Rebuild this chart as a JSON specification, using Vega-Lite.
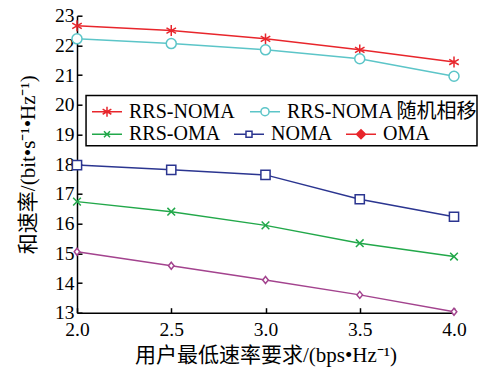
{
  "$schema": "https://vega.github.io/schema/vega-lite/v6.json",
  "width": 377,
  "height": 297,
  "autosize": {"type": "none"},
  "padding": {"left": 77, "top": 15.7, "right": 26, "bottom": 57.3},
  "background": "white",
  "config": {
    "view": {"stroke": null},
    "axis": {
      "domainColor": "black",
      "domainWidth": 1.5,
      "tickColor": "black",
      "tickWidth": 1.5,
      "grid": false,
      "labelFlush": false,
      "labelFont": "Liberation Serif",
      "labelFontSize": 19.5,
      "labelColor": "black",
      "titleFont": "Liberation Serif, Noto Sans CJK SC",
      "titleFontSize": 21,
      "titleFontWeight": "normal",
      "titleColor": "black"
    }
  },
  "data": {
    "values": [
      {"x": 2.0, "y": 22.66, "series": "RRS-NOMA"},
      {"x": 2.5, "y": 22.50, "series": "RRS-NOMA"},
      {"x": 3.0, "y": 22.22, "series": "RRS-NOMA"},
      {"x": 3.5, "y": 21.85, "series": "RRS-NOMA"},
      {"x": 4.0, "y": 21.44, "series": "RRS-NOMA"},
      {"x": 2.0, "y": 22.22, "series": "RRS-NOMA 随机相移"},
      {"x": 2.5, "y": 22.06, "series": "RRS-NOMA 随机相移"},
      {"x": 3.0, "y": 21.85, "series": "RRS-NOMA 随机相移"},
      {"x": 3.5, "y": 21.55, "series": "RRS-NOMA 随机相移"},
      {"x": 4.0, "y": 20.96, "series": "RRS-NOMA 随机相移"},
      {"x": 2.0, "y": 16.74, "series": "RRS-OMA"},
      {"x": 2.5, "y": 16.40, "series": "RRS-OMA"},
      {"x": 3.0, "y": 15.94, "series": "RRS-OMA"},
      {"x": 3.5, "y": 15.34, "series": "RRS-OMA"},
      {"x": 4.0, "y": 14.89, "series": "RRS-OMA"},
      {"x": 2.0, "y": 17.97, "series": "NOMA"},
      {"x": 2.5, "y": 17.81, "series": "NOMA"},
      {"x": 3.0, "y": 17.64, "series": "NOMA"},
      {"x": 3.5, "y": 16.82, "series": "NOMA"},
      {"x": 4.0, "y": 16.23, "series": "NOMA"},
      {"x": 2.0, "y": 15.05, "series": "OMA"},
      {"x": 2.5, "y": 14.58, "series": "OMA"},
      {"x": 3.0, "y": 14.10, "series": "OMA"},
      {"x": 3.5, "y": 13.60, "series": "OMA"},
      {"x": 4.0, "y": 13.03, "series": "OMA"}
    ]
  },
  "layer": [
    {
      "data": {"values": [{"note": "legend frame"}]},
      "mark": {"type": "rect", "fill": "white", "stroke": "black", "strokeWidth": 1.5},
      "encoding": {
        "x": {"datum": 2.048, "type": "quantitative", "scale": {"domain": [2, 4], "nice": false, "zero": false}, "title": "用户最低速率要求/(bps•Hz⁻¹)",
          "axis": {"values": [2, 2.5, 3, 3.5, 4], "format": ".1f", "tickSize": -5, "labelPadding": 13, "titlePadding": 5}},
        "x2": {"datum": 4.122},
        "y": {"datum": 20.31, "type": "quantitative", "scale": {"domain": [13, 23], "nice": false, "zero": false}, "title": "和速率/(bit•s⁻¹•Hz⁻¹)",
          "axis": {"values": [13, 14, 15, 16, 17, 18, 19, 20, 21, 22, 23], "tickSize": -5, "labelPadding": 8, "titlePadding": 16}},
        "y2": {"datum": 18.62}
      }
    },
    {
      "transform": [{"filter": {"field": "series", "oneOf": ["RRS-NOMA", "RRS-NOMA 随机相移"]}}],
      "encoding": {
        "x": {"field": "x", "type": "quantitative", "scale": {"domain": [2, 4], "nice": false, "zero": false}, "title": "用户最低速率要求/(bps•Hz⁻¹)",
          "axis": {"values": [2, 2.5, 3, 3.5, 4], "format": ".1f", "tickSize": -5, "labelPadding": 13, "titlePadding": 5}},
        "y": {"field": "y", "type": "quantitative", "scale": {"domain": [13, 23], "nice": false, "zero": false}, "title": "和速率/(bit•s⁻¹•Hz⁻¹)",
          "axis": {"values": [13, 14, 15, 16, 17, 18, 19, 20, 21, 22, 23], "tickSize": -5, "labelPadding": 8, "titlePadding": 16}},
        "stroke": {
          "field": "series", "type": "nominal",
          "scale": {"domain": ["RRS-NOMA", "RRS-NOMA 随机相移"], "range": ["#e8262c", "#5cc5c8"]},
          "legend": null
        }
      },
      "layer": [
        {"mark": {"type": "line", "strokeWidth": 1.5}},
        {
          "mark": {"type": "point", "filled": false, "fill": "white", "strokeWidth": 1.5, "opacity": 1},
          "encoding": {
            "shape": {
              "field": "series", "type": "nominal",
              "scale": {"domain": ["RRS-NOMA", "RRS-NOMA 随机相移"], "range": ["M0,-1V1M-0.87,-0.5L0.87,0.5M-0.87,0.5L0.87,-0.5", "circle"]},
              "legend": null
            },
            "size": {
              "field": "series", "type": "nominal",
              "scale": {"domain": ["RRS-NOMA", "RRS-NOMA 随机相移"], "range": [120, 100]},
              "legend": null
            }
          }
        }
      ]
    },
    {
      "transform": [{"filter": {"field": "series", "oneOf": ["RRS-OMA", "NOMA", "OMA"]}}],
      "encoding": {
        "x": {"field": "x", "type": "quantitative", "scale": {"domain": [2, 4], "nice": false, "zero": false}, "title": "用户最低速率要求/(bps•Hz⁻¹)",
          "axis": {"values": [2, 2.5, 3, 3.5, 4], "format": ".1f", "tickSize": -5, "labelPadding": 13, "titlePadding": 5}},
        "y": {"field": "y", "type": "quantitative", "scale": {"domain": [13, 23], "nice": false, "zero": false}, "title": "和速率/(bit•s⁻¹•Hz⁻¹)",
          "axis": {"values": [13, 14, 15, 16, 17, 18, 19, 20, 21, 22, 23], "tickSize": -5, "labelPadding": 8, "titlePadding": 16}},
        "stroke": {
          "field": "series", "type": "nominal",
          "scale": {"domain": ["RRS-OMA", "NOMA", "OMA"], "range": ["#22a84a", "#2b3590", "#a3438e"]},
          "legend": null
        }
      },
      "layer": [
        {"mark": {"type": "line", "strokeWidth": 1.5}},
        {
          "mark": {"type": "point", "filled": false, "fill": "white", "strokeWidth": 1.5, "opacity": 1},
          "encoding": {
            "shape": {
              "field": "series", "type": "nominal",
              "scale": {"domain": ["RRS-OMA", "NOMA", "OMA"], "range": ["M-0.7,-0.7L0.7,0.7M-0.7,0.7L0.7,-0.7", "square", "M0,-1L0.8,0L0,1L-0.8,0Z"]},
              "legend": null
            },
            "size": {
              "field": "series", "type": "nominal",
              "scale": {"domain": ["RRS-OMA", "NOMA", "OMA"], "range": [120, 49, 100]},
              "legend": null
            }
          }
        }
      ]
    },
    {
      "transform": [{"filter": {"field": "series", "oneOf": ["RRS-NOMA", "RRS-NOMA 随机相移"]}}],
      "mark": {"type": "point", "filled": false, "opacity": 0, "size": 900, "strokeWidth": 1.5},
      "encoding": {
        "x": {"field": "x", "type": "quantitative", "scale": {"domain": [2, 4], "nice": false, "zero": false}, "title": "用户最低速率要求/(bps•Hz⁻¹)",
          "axis": {"values": [2, 2.5, 3, 3.5, 4], "format": ".1f", "tickSize": -5, "labelPadding": 13, "titlePadding": 5}},
        "y": {"field": "y", "type": "quantitative", "scale": {"domain": [13, 23], "nice": false, "zero": false}, "title": "和速率/(bit•s⁻¹•Hz⁻¹)",
          "axis": {"values": [13, 14, 15, 16, 17, 18, 19, 20, 21, 22, 23], "tickSize": -5, "labelPadding": 8, "titlePadding": 16}},
        "stroke": {
          "field": "series", "type": "nominal",
          "scale": {"domain": ["RRS-NOMA", "RRS-NOMA 随机相移"], "range": ["#e8262c", "#5cc5c8"]},
          "legend": {
            "orient": "none", "legendX": 14, "legendY": 80, "direction": "horizontal",
            "title": null, "padding": 0, "columnPadding": 12,
            "labelFont": "Liberation Serif, Noto Sans CJK SC", "labelFontSize": 20, "labelColor": "black",
            "labelOffset": 6, "labelLimit": 0, "symbolSize": 900, "symbolStrokeWidth": 1.5, "symbolOpacity": 1
          }
        },
        "shape": {
          "field": "series", "type": "nominal",
          "scale": {"domain": ["RRS-NOMA", "RRS-NOMA 随机相移"], "range": [
            "M-1,0H1M0,-0.33V0.33M-0.29,-0.17L0.29,0.17M-0.29,0.17L0.29,-0.17",
            "M-1,0H-0.27M0.27,0H1M0.27,0A0.27,0.27,0,1,1,-0.27,0A0.27,0.27,0,1,1,0.27,0"
          ]},
          "legend": {
            "orient": "none", "legendX": 14, "legendY": 80, "direction": "horizontal",
            "title": null, "padding": 0, "columnPadding": 12,
            "labelFont": "Liberation Serif, Noto Sans CJK SC", "labelFontSize": 20, "labelColor": "black",
            "labelOffset": 6, "labelLimit": 0, "symbolSize": 900, "symbolStrokeWidth": 1.5, "symbolOpacity": 1
          }
        }
      }
    },
    {
      "transform": [{"filter": {"field": "series", "oneOf": ["RRS-OMA", "NOMA", "OMA"]}}],
      "mark": {"type": "point", "filled": false, "opacity": 0, "size": 900, "strokeWidth": 1.5},
      "encoding": {
        "x": {"field": "x", "type": "quantitative", "scale": {"domain": [2, 4], "nice": false, "zero": false}, "title": "用户最低速率要求/(bps•Hz⁻¹)",
          "axis": {"values": [2, 2.5, 3, 3.5, 4], "format": ".1f", "tickSize": -5, "labelPadding": 13, "titlePadding": 5}},
        "y": {"field": "y", "type": "quantitative", "scale": {"domain": [13, 23], "nice": false, "zero": false}, "title": "和速率/(bit•s⁻¹•Hz⁻¹)",
          "axis": {"values": [13, 14, 15, 16, 17, 18, 19, 20, 21, 22, 23], "tickSize": -5, "labelPadding": 8, "titlePadding": 16}},
        "stroke": {
          "field": "series", "type": "nominal",
          "scale": {"domain": ["RRS-OMA", "NOMA", "OMA"], "range": ["#22a84a", "#2b3590", "#e8262c"]},
          "legend": {
            "orient": "none", "legendX": 14, "legendY": 102.6, "direction": "horizontal",
            "title": null, "padding": 0, "columnPadding": 10,
            "labelFont": "Liberation Serif, Noto Sans CJK SC", "labelFontSize": 20, "labelColor": "black",
            "labelOffset": 6, "labelLimit": 0, "symbolSize": 900, "symbolStrokeWidth": 1.5, "symbolOpacity": 1
          }
        },
        "shape": {
          "field": "series", "type": "nominal",
          "scale": {"domain": ["RRS-OMA", "NOMA", "OMA"], "range": [
            "M-1,0H1M-0.2,-0.2L0.2,0.2M-0.2,0.2L0.2,-0.2",
            "M-1,0H-0.2M0.2,0H1M-0.2,-0.2H0.2V0.2H-0.2Z",
            "M-1,0H1M0,-0.3L0.3,0L0,0.3L-0.3,0Z"
          ]},
          "legend": {
            "orient": "none", "legendX": 14, "legendY": 102.6, "direction": "horizontal",
            "title": null, "padding": 0, "columnPadding": 10,
            "labelFont": "Liberation Serif, Noto Sans CJK SC", "labelFontSize": 20, "labelColor": "black",
            "labelOffset": 6, "labelLimit": 0, "symbolSize": 900, "symbolStrokeWidth": 1.5, "symbolOpacity": 1
          }
        },
        "fill": {
          "field": "series", "type": "nominal",
          "scale": {"domain": ["RRS-OMA", "NOMA", "OMA"], "range": ["transparent", "transparent", "#e8262c"]},
          "legend": {
            "orient": "none", "legendX": 14, "legendY": 102.6, "direction": "horizontal",
            "title": null, "padding": 0, "columnPadding": 10,
            "labelFont": "Liberation Serif, Noto Sans CJK SC", "labelFontSize": 20, "labelColor": "black",
            "labelOffset": 6, "labelLimit": 0, "symbolSize": 900, "symbolStrokeWidth": 1.5, "symbolOpacity": 1
          }
        }
      }
    }
  ],
  "resolve": {"scale": {"stroke": "independent", "shape": "independent", "size": "independent", "fill": "independent"}}
}
